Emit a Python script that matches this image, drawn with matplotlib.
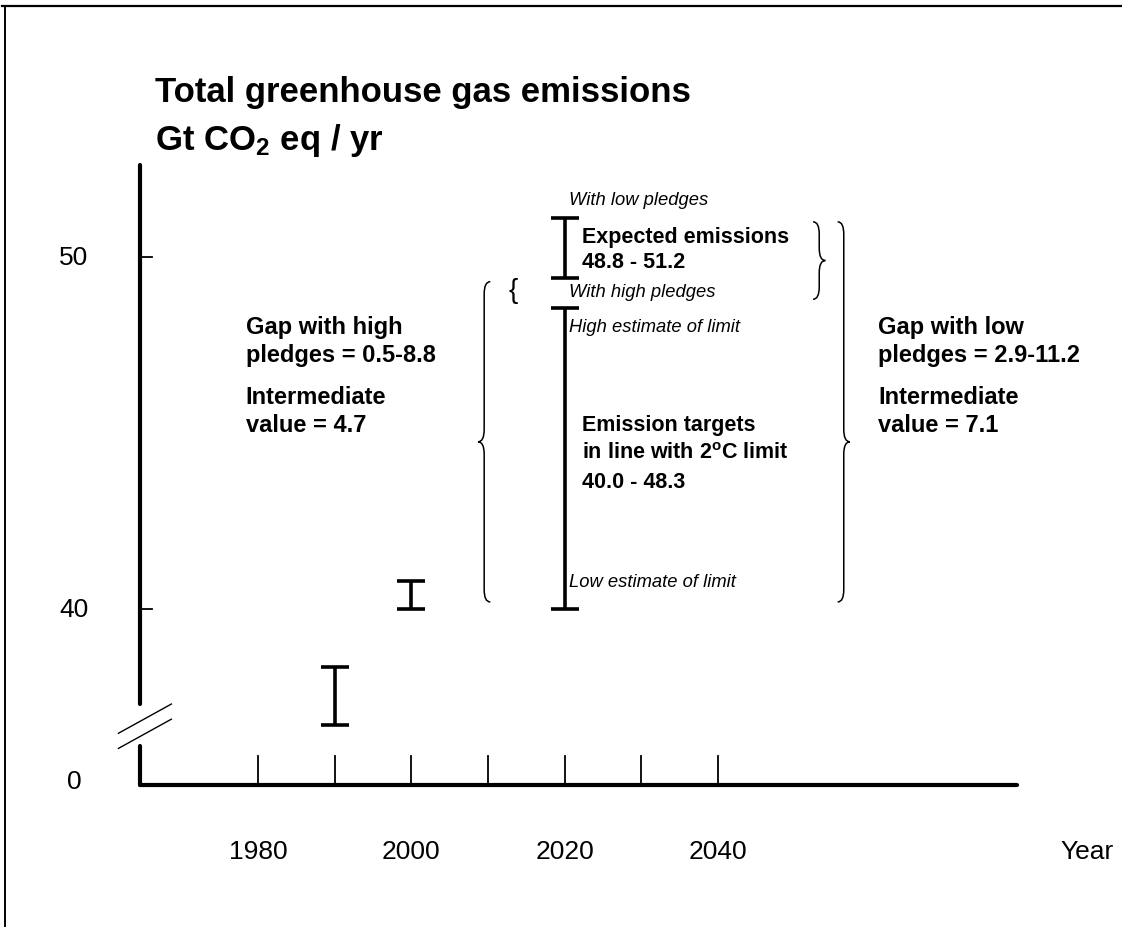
import numpy as np
import matplotlib.pyplot as plt
from matplotlib.lines import Line2D
from matplotlib.path import Path
from matplotlib.patches import PathPatch

plt.rcParams['font.family'] = ['Liberation Sans', 'DejaVu Sans']
plt.rcParams['mathtext.fontset'] = 'custom'
plt.rcParams['mathtext.rm'] = 'Liberation Sans'
plt.rcParams['mathtext.bf'] = 'Liberation Sans:bold'
plt.rcParams['mathtext.it'] = 'Liberation Sans:italic'

# emission ranges (Gt CO2 eq / yr)
hist_years = [1990, 2000]
hist_low = [36.7, 40.0]
hist_high = [38.35, 40.8]

target_year = 2020
expected_low, expected_high = 49.4, 51.1
limit_low, limit_high = 40.0, 48.55

# braces (y ranges)
gap_high_range = (40.2, 49.3)
gap_low_range = (40.2, 51.0)
expected_brace = (48.8, 51.0)

x_ticks = [1980, 1990, 2000, 2010, 2020, 2030, 2040]
x_labels = [1980, 2000, 2020, 2040]
y_ticks = [40, 50]
zero_pos = 35.0          # where "0" sits on the broken axis
axis_x = 1964.6
x_end = 2079.0

fig = plt.figure(figsize=(11.22, 9.28), dpi=100)
ax = fig.add_axes([0, 0, 1, 1])
ax.set_xlim(1946.35, 2092.69)
ax.set_ylim(30.966, 57.33)
ax.axis('off')

# page frame
fig.add_artist(Line2D([0.002, 1], [0.9925, 0.9925], color='black', lw=1.6))
fig.add_artist(Line2D([0.0045, 0.0045], [0, 0.9925], color='black', lw=1.4))

# axes with break
ax.plot([axis_x, axis_x], [37.3, 52.6], color='black', lw=3, solid_capstyle='round')
ax.plot([axis_x, axis_x], [zero_pos, 36.1], color='black', lw=3, solid_capstyle='round')
ax.plot([axis_x, x_end], [zero_pos, zero_pos], color='black', lw=3, solid_capstyle='round')
for dy in [0, -0.43]:
    ax.plot([1961.8, 1968.7], [36.47 + dy, 37.3 + dy], color='black', lw=1)

for t in x_ticks:
    ax.plot([t, t], [zero_pos, zero_pos + 0.82], color='black', lw=1.3)
for t in y_ticks:
    ax.plot([axis_x, axis_x + 1.6], [t, t], color='black', lw=1.3)
    ax.text(1956.0, t, str(t), fontsize=19, ha='center', va='center')
ax.text(1956.0, zero_pos + 0.1, '0', fontsize=19, ha='center', va='center')
for t in x_labels:
    ax.text(t, 33.12, str(t), fontsize=19, ha='center', va='center')
ax.text(2088.2, 33.12, 'Year', fontsize=19, ha='center', va='center')

# error bars
bar_kw = dict(fmt='none', ecolor='black', elinewidth=2.6, capsize=10, capthick=2.6)
for yr, lo, hi in zip(hist_years, hist_low, hist_high):
    ax.errorbar(yr, (lo + hi) / 2, yerr=(hi - lo) / 2, **bar_kw)
ax.errorbar(target_year, (expected_low + expected_high) / 2,
            yerr=(expected_high - expected_low) / 2, **bar_kw)
ax.errorbar(target_year, (limit_low + limit_high) / 2,
            yerr=(limit_high - limit_low) / 2, **bar_kw)


def brace(x, y0, y1, w, tip=None, r=0.35, lw=1.1):
    if tip is None:
        tip = (y0 + y1) / 2
    xm = x + w / 2
    verts = [(x, y1), (xm, y1), (xm, y1 - r), (xm, tip + r),
             (xm, tip), (x + w, tip), (xm, tip), (xm, tip - r),
             (xm, y0 + r), (xm, y0), (x, y0)]
    codes = [Path.MOVETO, Path.CURVE3, Path.CURVE3, Path.LINETO,
             Path.CURVE3, Path.CURVE3, Path.CURVE3, Path.CURVE3,
             Path.LINETO, Path.CURVE3, Path.CURVE3]
    ax.add_patch(PathPatch(Path(verts, codes), fill=False, lw=lw, ec='black'))


brace(2010.3, *gap_high_range, -1.6)
brace(2055.6, *gap_low_range, 1.6, tip=44.75)
brace(2052.4, *expected_brace, 1.6)
ax.text(2013.3, 49.05, '{', fontsize=20, ha='center', va='center')

# labels next to the 2020 bars
tx = target_year + 0.55
it_kw = dict(fontsize=13.2, style='italic', ha='left', va='center')
ax.text(tx, 51.62, 'With low pledges', **it_kw)
ax.text(tx, 49.03, 'With high pledges', **it_kw)
ax.text(tx, 48.04, 'High estimate of limit', **it_kw)
ax.text(tx, 40.77, 'Low estimate of limit', **it_kw)

bx = target_year + 2.25
ax.text(bx, 50.43, 'Expected emissions', fontsize=15.5, fontweight='bold', va='baseline')
ax.text(bx, 49.72, '48.8 - 51.2', fontsize=15.5, fontweight='bold', va='baseline')
lines = ['Emission targets', r'in line with 2$^\mathbf{o}$C limit', '40.0 - 48.3']
for i, s in enumerate(lines):
    ax.text(bx, 45.25 - i * 0.81, s, fontsize=15.5, fontweight='bold', va='center')

big_kw = dict(fontsize=17, fontweight='bold', ha='left', va='center', linespacing=1.32)
ax.text(1978.4, 47.63, 'Gap with high\npledges = 0.5-8.8', **big_kw)
ax.text(1978.4, 45.64, 'Intermediate\nvalue = 4.7', **big_kw)
ax.text(2060.9, 47.63, 'Gap with low\npledges = 2.9-11.2', **big_kw)
ax.text(2060.9, 45.64, 'Intermediate\nvalue = 7.1', **big_kw)

# title
ax.text(1966.6, 54.43, 'Total greenhouse gas emissions', fontsize=25,
        fontweight='bold', va='baseline')
ax.text(1966.6, 53.07, r'Gt CO$_\mathbf{2}$ eq / yr', fontsize=25,
        fontweight='bold', va='baseline')

fig.savefig('out.png', dpi=100)
